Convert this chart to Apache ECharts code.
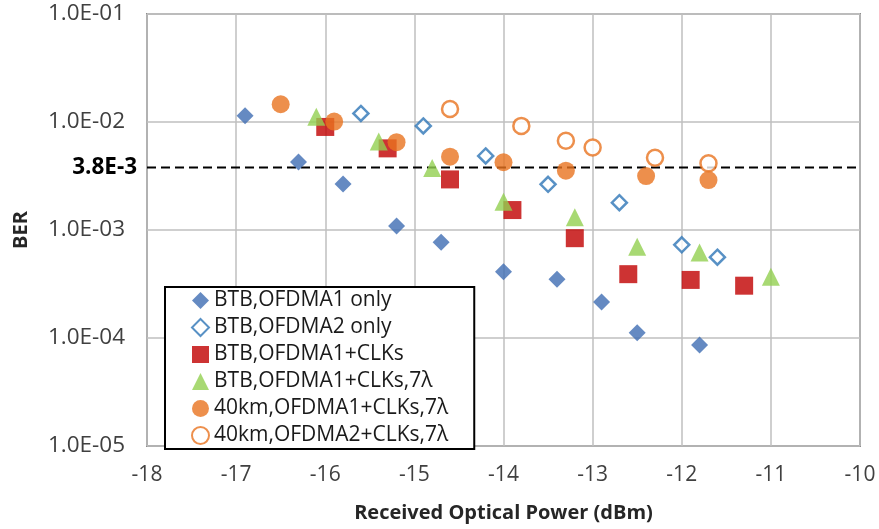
<!DOCTYPE html>
<html>
<head>
<meta charset="utf-8">
<script src="https://cdn.jsdelivr.net/npm/echarts@6/dist/echarts.min.js"></script>
<style>html,body{margin:0;padding:0;background:#fff}#c{width:879px;height:529px}</style>
</head>
<body>
<div id="c"></div>
<script>
const FONT = "Open Sans";
const seriesNames = ["BTB,OFDMA1 only","BTB,OFDMA2 only","BTB,OFDMA1+CLKs","BTB,OFDMA1+CLKs,7λ","40km,OFDMA1+CLKs,7λ","40km,OFDMA2+CLKs,7λ"];
const btbO1 = [[-16.9,1.14e-2],[-16.3,4.26e-3],[-15.8,2.67e-3],[-15.2,1.09e-3],[-14.7,7.7e-4],[-14.0,4.1e-4],[-13.4,3.5e-4],[-12.9,2.16e-4],[-12.5,1.12e-4],[-11.8,8.6e-5]];
const btbO2 = [[-15.6,1.2e-2],[-14.9,9.2e-3],[-14.2,4.85e-3],[-13.5,2.65e-3],[-12.7,1.79e-3],[-12.0,7.3e-4],[-11.6,5.6e-4]];
const btbO1clk = [[-16.0,9.0e-3],[-15.3,5.7e-3],[-14.6,2.94e-3],[-13.9,1.53e-3],[-13.2,8.4e-4],[-12.6,3.9e-4],[-11.9,3.45e-4],[-11.3,3.05e-4]];
const btbO1clk7 = [[-16.1,1.12e-2],[-15.4,6.6e-3],[-14.8,3.75e-3],[-14.0,1.83e-3],[-13.2,1.31e-3],[-12.5,7.0e-4],[-11.8,6.2e-4],[-11.0,3.7e-4]];
const km40O1 = [[-16.5,1.46e-2],[-15.9,1.01e-2],[-15.2,6.5e-3],[-14.6,4.77e-3],[-14.0,4.24e-3],[-13.3,3.54e-3],[-12.4,3.16e-3],[-11.7,2.9e-3]];
const km40O2 = [[-14.6,1.32e-2],[-13.8,9.2e-3],[-13.3,6.7e-3],[-13.0,5.8e-3],[-12.3,4.67e-3],[-11.7,4.14e-3]];
const threshold = 3.8e-3;
const thresholdLabel = "3.8E-3";
const xMin = -18, xMax = -10, xStep = 1;
const yMin = 1e-5, yMax = 1e-1;
const xTitle = "Received Optical Power (dBm)";
const yTitle = "BER";

function fmtE(v){
  const e = Math.round(Math.log10(v));
  const m = v / Math.pow(10, e);
  const s = e < 0 ? "-" : "+";
  const a = Math.abs(e);
  return m.toFixed(1) + "E" + s + (a < 10 ? "0" + a : a);
}

const chart = echarts.init(document.getElementById('c'), null, {renderer:'canvas'});
const txt = '#404040';
chart.setOption({
  animation:false,
  backgroundColor:'#fff',
  textStyle:{fontFamily:FONT},
  grid:{left:147,right:19,top:14,bottom:83,show:true,borderColor:'#8C8C8C',borderWidth:2},
  xAxis:{type:'value',min:xMin,max:xMax,interval:xStep,
    name:xTitle,nameLocation:'middle',nameGap:57,
    nameTextStyle:{fontFamily:FONT,fontWeight:'bold',fontSize:20,color:'#262626'},
    axisLine:{show:false},axisTick:{show:false},
    axisLabel:{fontFamily:FONT,fontSize:21,color:txt,margin:19},
    splitLine:{show:true,lineStyle:{color:'#BFBFBF',width:1.5}}},
  yAxis:{type:'log',logBase:10,min:yMin,max:yMax,
    name:yTitle,nameLocation:'middle',nameGap:116,
    nameTextStyle:{fontFamily:FONT,fontWeight:'bold',fontSize:20,color:'#262626'},
    axisLine:{show:false},axisTick:{show:false},
    axisLabel:{fontFamily:FONT,fontSize:22.5,color:txt,margin:22,formatter:fmtE},
    splitLine:{show:true,lineStyle:{color:'#BFBFBF',width:1.5}}},
  legend:{orient:'vertical',left:165,top:287,
    backgroundColor:'#fff',borderColor:'#000',borderWidth:2,
    padding:[3,26,3,26],itemGap:6,itemWidth:17,itemHeight:17,
    textStyle:{fontFamily:FONT,fontSize:21,color:'#1a1a1a',lineHeight:20},
    data:seriesNames},
  series:[
    {name:seriesNames[0],type:'scatter',data:btbO1,symbol:'diamond',symbolSize:17,
      itemStyle:{color:'#3F6DB3'},z:3},
    {name:seriesNames[1],type:'scatter',data:btbO2,symbol:'diamond',symbolSize:15,
      itemStyle:{color:'#fff',borderColor:'#2E75B6',borderWidth:2.5},z:3},
    {name:seriesNames[2],type:'scatter',data:btbO1clk,symbol:'rect',symbolSize:18,
      itemStyle:{color:'#C00000'},z:3},
    {name:seriesNames[3],type:'scatter',data:btbO1clk7,symbol:'triangle',symbolSize:18,
      itemStyle:{color:'#92D050'},z:4},
    {name:seriesNames[4],type:'scatter',data:km40O1,symbol:'circle',symbolSize:18,
      itemStyle:{color:'#E8731F'},z:4},
    {name:seriesNames[5],type:'scatter',data:km40O2,symbol:'circle',symbolSize:16,
      itemStyle:{color:'#fff',borderColor:'#E8731F',borderWidth:2.5},z:4},
    {name:'threshold',type:'line',z:2,silent:true,
      data:[{value:[xMin,threshold],label:{show:true,position:'left',distance:10,formatter:thresholdLabel,fontFamily:FONT,fontWeight:'bold',fontSize:22.5,color:'#000'}},[xMax,threshold]],
      symbol:'circle',symbolSize:0,showSymbol:true,
      lineStyle:{type:[9,5],color:'#000',width:2},
      itemStyle:{color:'#000'}}
  ]
});
</script>
</body>
</html>
